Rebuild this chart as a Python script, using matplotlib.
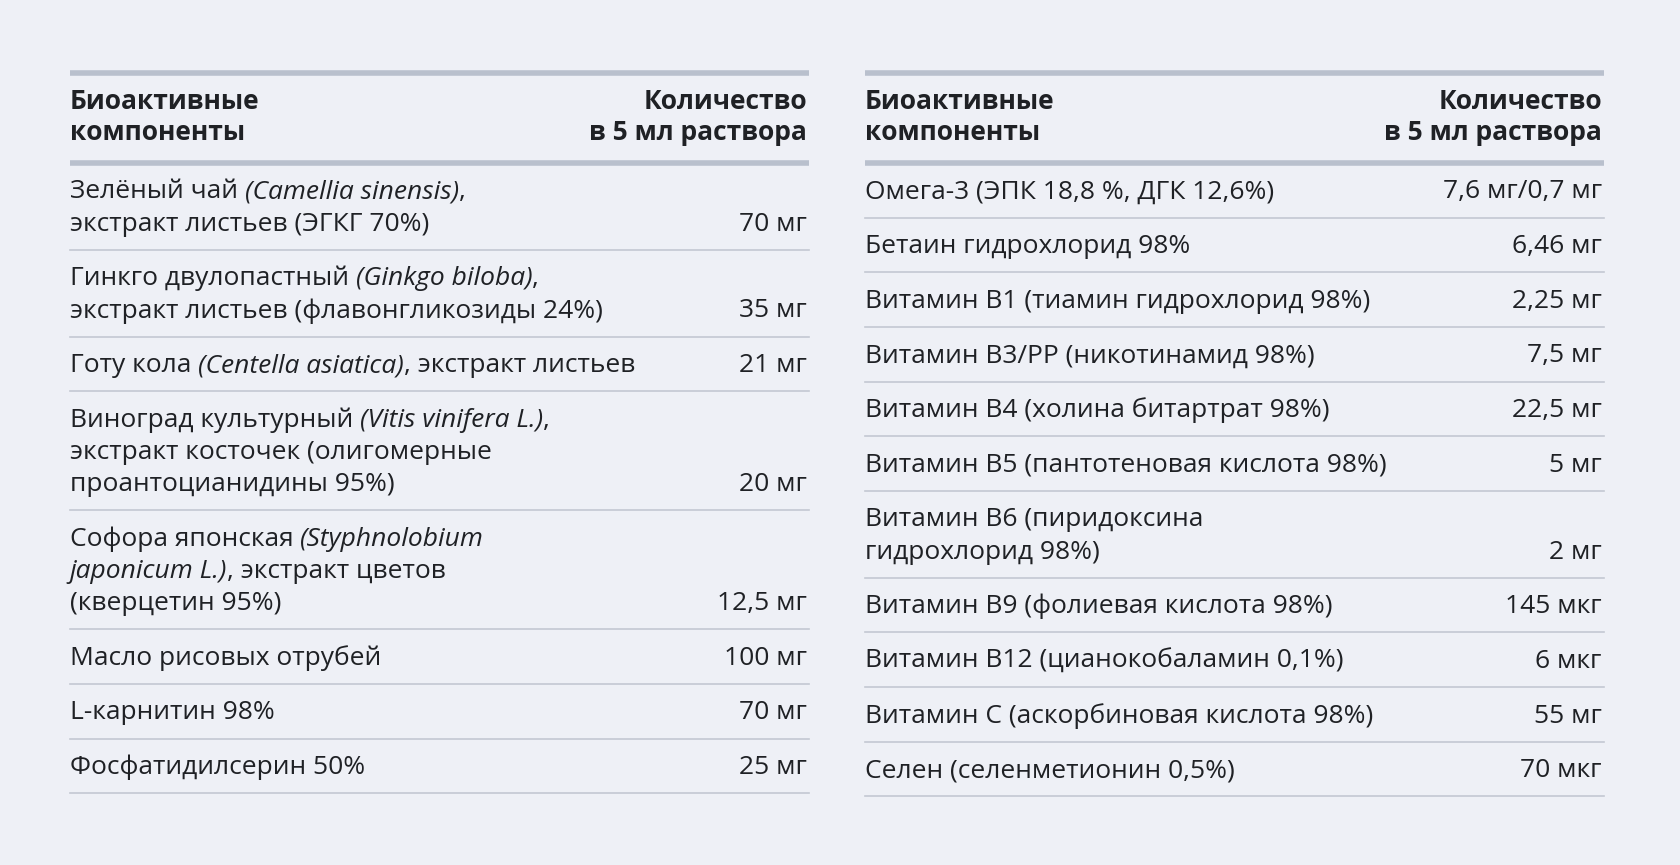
import matplotlib
matplotlib.use("Agg")
import matplotlib.pyplot as plt

FONT = "Open Sans"
BG = "#eef0f6"
TXT = "#1f2125"
THICK = "#b9c0cd"
THIN = "#c3c8d2"

header_left = ["Биоактивные", "компоненты"]
header_right = ["Количество", "в 5 мл раствора"]

# *...* marks italic parts; lines separated by \n
left_components = [
    "Зелёный чай *(Camellia sinensis)*,\nэкстракт листьев (ЭГКГ 70%)",
    "Гинкго двулопастный *(Ginkgo biloba)*,\nэкстракт листьев (флавонгликозиды 24%)",
    "Готу кола *(Centella asiatica)*, экстракт листьев",
    "Виноград культурный *(Vitis vinifera L.)*,\nэкстракт косточек (олигомерные\nпроантоцианидины 95%)",
    "Софора японская *(Styphnolobium*\n*japonicum L.)*, экстракт цветов\n(кверцетин 95%)",
    "Масло рисовых отрубей",
    "L-карнитин 98%",
    "Фосфатидилсерин 50%",
]
left_amounts = ["70 мг", "35 мг", "21 мг", "20 мг", "12,5 мг", "100 мг", "70 мг", "25 мг"]

right_components = [
    "Омега-3 (ЭПК 18,8 %, ДГК 12,6%)",
    "Бетаин гидрохлорид 98%",
    "Витамин В1 (тиамин гидрохлорид 98%)",
    "Витамин В3/РР (никотинамид 98%)",
    "Витамин В4 (холина битартрат 98%)",
    "Витамин В5 (пантотеновая кислота 98%)",
    "Витамин В6 (пиридоксина\nгидрохлорид 98%)",
    "Витамин В9 (фолиевая кислота 98%)",
    "Витамин В12 (цианокобаламин 0,1%)",
    "Витамин С (аскорбиновая кислота 98%)",
    "Селен (селенметионин 0,5%)",
]
right_amounts = ["7,6 мг/0,7 мг", "6,46 мг", "2,25 мг", "7,5 мг", "22,5 мг", "5 мг",
                 "2 мг", "145 мкг", "6 мкг", "55 мг", "70 мкг"]

W, H = 1568, 807
fig = plt.figure(figsize=(16.8, 8.65), dpi=100, facecolor=BG)
ax = fig.add_axes([0, 0, 1, 1])
ax.set_xlim(0, W); ax.set_ylim(H, 0); ax.axis("off")
ax.set_facecolor(BG)
fig.canvas.draw()
rend = fig.canvas.get_renderer()
scale = W / 1680.0
FS = 19

def rich(x, y, line):
    parts = line.split("*")
    for i, p in enumerate(parts):
        if not p:
            continue
        t = ax.text(x, y, p, fontsize=FS, family=FONT, color=TXT, va="center", ha="left",
                    style="italic" if i % 2 else "normal")
        bb = t.get_window_extent(renderer=rend)
        x += bb.width * scale

def table(x0, x1, comps, amts):
    top = 68
    ax.plot([x0, x1], [top, top], color=THICK, lw=4, solid_capstyle="butt")
    for k in range(2):
        yy = 95 + 29 * k
        ax.text(x0, yy, header_left[k], fontsize=FS, family=FONT, weight="bold", color=TXT, va="center")
        ax.text(x1 - 2, yy, header_right[k], fontsize=FS, family=FONT, weight="bold", color=TXT,
                va="center", ha="right")
    y = 152
    ax.plot([x0, x1], [y, y], color=THICK, lw=4, solid_capstyle="butt")
    for c, a in zip(comps, amts):
        lines = c.split("\n")
        n = len(lines)
        for j, ln in enumerate(lines):
            rich(x0, y + 27 + 30 * j, ln)
        ax.text(x1 - 2, y + 27 + 30 * (n - 1), a, fontsize=FS, family=FONT, color=TXT,
                va="center", ha="right")
        y += 21 + 30 * n
        ax.plot([x0, x1], [y, y], color=THIN, lw=1.2)

table(65, 755, left_components, left_amounts)
table(807, 1497, right_components, right_amounts)
fig.savefig("out.png", dpi=100, facecolor=BG)
